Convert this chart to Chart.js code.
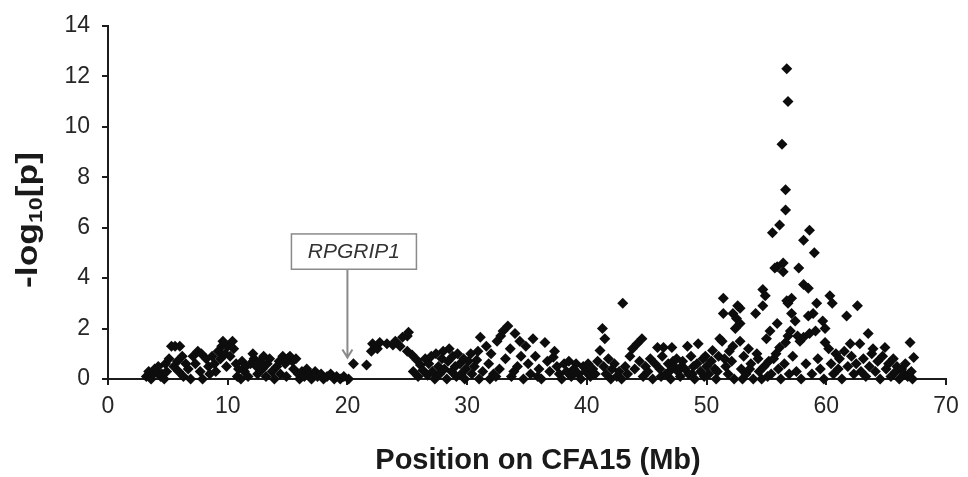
<!DOCTYPE html>
<html>
<head>
<meta charset="utf-8">
<script src="https://cdn.jsdelivr.net/npm/chart.js@4/dist/chart.umd.min.js"></script>
<style>
  html, body { margin: 0; padding: 0; background: #fff; }
  #wrap { width: 968px; height: 477px; }
</style>
</head>
<body>
<div id="wrap"><canvas id="chart"></canvas></div>
<script>
// tick values on both axes
const xTicks = [0, 10, 20, 30, 40, 50, 60, 70];
const yTicks = [0, 2, 4, 6, 8, 10, 12, 14];

// markers 3 - 20 Mb  [position, -log10 p]
const snps3to20 = [
  [3.2,0.1],[3.4,0.3],[3.6,0.0],[3.8,0.2],[3.9,0.4],
  [4.1,0.3],[4.2,0.5],[4.4,0.1],[4.5,0.2],[4.7,0.0],[4.8,0.6],[4.9,0.3],
  [5.1,0.8],[5.3,1.3],[5.5,0.5],[5.6,1.3],[5.8,0.7],[5.9,0.3],
  [6.0,1.3],[6.2,0.9],[6.3,0.1],[6.5,0.6],[6.7,0.4],[6.9,0.0],
  [7.1,0.9],[7.3,0.6],[7.5,1.1],[7.7,0.3],[7.8,1.0],[7.9,0.0],
  [8.2,0.8],[8.4,0.5],[8.5,0.2],[8.7,0.9],[8.9,0.6],
  [9.0,0.3],[9.2,1.1],[9.4,0.8],[9.5,1.3],[9.6,1.5],[9.8,1.0],[9.9,0.5],
  [10.0,1.3],[10.2,0.9],[10.4,1.5],[10.5,1.2],[10.7,0.6],[10.8,0.1],[10.9,0.4],
  [11.1,0.0],[11.2,0.7],[11.4,0.3],[11.5,0.5],[11.7,0.1],[11.9,0.6],
  [12.1,1.0],[12.2,0.8],[12.4,0.5],[12.5,0.2],[12.7,0.7],[12.9,0.4],
  [13.0,0.9],[13.2,0.1],[13.3,0.6],[13.5,0.8],[13.7,0.3],[13.9,0.0],
  [14.1,0.5],[14.3,0.7],[14.4,0.2],[14.6,0.9],[14.8,0.6],[14.9,0.1],
  [15.0,0.8],[15.2,0.9],[15.4,0.7],[15.5,0.4],[15.7,0.8],[15.9,0.2],
  [16.0,0.0],[16.2,0.3],[16.4,0.1],[16.6,0.4],[16.8,0.2],
  [17.0,0.0],[17.3,0.3],[17.5,0.1],[17.8,0.2],[18.0,0.0],[18.3,0.1],
  [18.6,0.2],[18.9,0.0],[19.1,0.1],[19.4,0.0],[19.7,0.1],[20.1,0.0]
];

// markers 20 - 41 Mb
const snps20to41 = [
  [20.5,0.6],[21.6,0.55],[22.0,1.1],[22.1,1.4],[22.5,1.2],[22.7,1.45],[23.3,1.4],
  [23.8,1.35],[24.0,1.5],[24.4,1.3],[24.6,1.65],[25.0,1.7],[25.1,1.85],[25.0,1.1],
  [25.4,0.95],[25.8,0.75],[26.1,0.55],[26.3,0.35],[26.7,0.15],[25.5,0.3],[25.9,0.1],[26.5,0.8],
  [26.8,0.6],[27.0,0.9],[27.1,0.3],[27.3,0.0],[27.4,1.0],[27.6,0.5],[27.7,0.2],[27.9,0.8],
  [28.0,1.1],[28.1,0.4],[28.3,0.0],[28.4,0.7],[28.5,1.2],[28.7,0.3],[28.8,0.9],[29.0,0.5],
  [29.1,0.1],[29.2,1.0],[29.4,0.6],[29.5,0.2],[29.7,0.8],[29.8,0.0],[29.9,0.4],
  [30.1,0.7],[30.3,1.0],[30.4,0.2],[30.6,0.5],[30.8,0.75],[30.9,1.1],[31.1,1.65],[31.0,0.0],[31.3,0.3],
  [31.6,1.3],[31.8,0.6],[31.9,0.0],[32.0,1.0],[32.2,0.2],[32.4,0.1],[32.5,1.5],[32.7,0.4],
  [32.8,1.7],[33.0,1.9],[33.2,0.8],[33.4,2.1],[33.6,1.2],[33.7,0.1],[33.9,0.3],[34.0,1.8],
  [34.2,0.5],[34.4,1.5],[34.5,0.9],[34.7,0.0],[34.9,1.3],[35.1,0.6],[35.3,0.2],[35.5,1.6],
  [35.7,0.9],[35.9,0.1],[36.0,0.4],[36.2,0.0],[36.5,1.45],[36.7,0.7],[36.9,0.3],
  [37.2,0.86],[37.3,1.1],[37.5,0.5],[37.7,0.2],[37.9,0.0],[38.1,0.6],[38.3,0.3],[38.5,0.7],
  [38.7,0.1],[38.9,0.4],[39.1,0.6],[39.3,0.2],[39.5,0.0],[39.7,0.5],[39.9,0.3],
  [40.1,0.6],[40.3,0.1],[40.5,0.4],[40.7,0.2],[40.9,0.7]
];

// markers 41 - 54 Mb
const snps41to54 = [
  [41.1,1.13],[41.3,2.0],[41.5,1.6],[41.4,0.5],[41.6,0.2],[41.8,0.8],[42.0,0.0],[42.1,0.4],
  [42.3,0.6],[42.5,0.1],[42.7,0.3],[43.0,3.0],[42.9,0.0],
  [43.2,0.5],[43.4,0.2],[43.6,0.9],[43.8,1.2],[44.0,0.4],[44.2,1.4],[44.4,0.7],[44.6,1.6],
  [44.7,0.1],[44.9,0.5],[45.1,0.3],[45.3,0.8],[45.5,0.0],[45.7,0.6],[45.9,1.25],
  [46.1,0.4],[46.2,0.1],[46.3,0.9],[46.4,1.25],[46.6,0.2],[46.8,0.6],[46.9,0.3],[47.0,0.0],
  [47.1,1.25],[47.2,0.7],[47.3,0.5],[47.5,0.8],[47.6,0.3],[47.8,0.1],[47.9,0.5],[48.0,0.7],
  [48.2,0.4],[48.4,1.3],[48.5,0.2],[48.7,0.9],[48.8,0.2],[48.9,0.5],[49.0,0.0],[49.2,0.6],
  [49.3,1.4],[49.5,0.3],[49.7,0.8],[49.8,0.1],[49.9,0.9],[50.0,0.5],
  [50.2,0.2],[50.4,0.7],[50.5,1.13],[50.7,0.4],[50.8,0.0],[50.9,0.3],[51.0,0.9],[51.1,1.6],
  [51.3,1.5],[51.4,2.6],[51.4,3.2],[51.5,0.8],[51.6,0.5],[51.8,0.2],[51.9,1.1],[52.1,0.7],
  [52.2,1.3],[52.2,2.6],[52.3,0.0],[52.4,2.0],[52.5,2.4],[52.6,2.9],[52.8,1.5],[52.8,2.2],
  [52.8,2.8],[52.9,0.4],[53.0,0.0],[53.1,0.9],[53.3,0.2],[53.5,1.2],[53.6,0.4],[53.7,0.6],[53.9,0.0]
];

// markers 54 - 67.5 Mb, incl. the peak
const snps54to68 = [
  [54.1,2.6],[54.2,1.0],[54.3,0.8],[54.4,0.3],[54.6,0.0],[54.7,3.55],[54.7,2.9],[54.8,0.5],
  [54.9,3.3],[55.0,1.6],[55.1,0.1],[55.2,0.7],[55.3,1.9],[55.4,0.2],[55.5,5.8],[55.6,0.8],
  [55.7,4.4],[55.9,2.2],[55.9,4.45],[55.8,1.0],[56.0,0.4],
  [56.1,6.1],[56.3,9.3],[56.6,7.5],[56.6,6.7],[56.7,12.3],[56.8,11.0],[56.4,4.25],[56.4,4.6],
  [56.1,1.25],[56.6,1.45],[56.7,3.1],[56.2,0.0],[56.5,0.6],[56.9,0.2],[56.8,1.7],[56.8,3.0],
  [57.0,1.9],[57.1,2.6],[57.1,3.2],[57.4,2.3],[57.6,1.7],[57.7,4.4],[57.8,1.5],[57.2,0.9],
  [57.5,0.3],[57.9,0.0],[58.1,3.75],[58.1,5.5],[58.1,1.65],[58.3,0.6],[58.5,3.6],[58.5,2.5],
  [58.6,5.9],[58.6,1.8],[58.8,0.2],[58.9,2.6],[59.0,5.0],[59.1,1.9],[59.2,3.0],[59.3,0.8],
  [59.5,0.4],[59.7,2.3],[59.9,2.0],[59.9,1.45],[59.8,0.0],
  [60.2,1.2],[60.3,3.3],[60.5,3.0],[60.4,0.6],[60.6,0.2],[60.8,1.0],[61.0,0.4],[61.1,0.8],
  [61.3,0.0],[61.5,1.1],[61.7,2.5],[61.8,0.5],[62.0,1.4],[62.1,0.9],[62.3,0.2],[62.5,0.6],
  [62.6,2.9],[62.8,1.4],[62.9,0.3],
  [63.1,0.8],[63.3,0.1],[63.5,1.8],[63.6,0.5],[63.8,1.0],[63.9,1.2],[64.1,0.3],[64.3,0.7],
  [64.5,0.0],[64.7,0.9],[64.9,1.25],[65.0,0.4],[65.2,0.6],[65.4,0.1],[65.6,0.8],[65.8,0.3],
  [65.9,0.5],[66.1,0.0],[66.3,0.4],[66.5,0.2],[66.6,0.6],[66.8,0.1],[66.9,0.2],[67.0,1.45],
  [67.1,0.3],[67.2,0.0],[67.3,0.85]
];

const geneName = 'RPGRIP1';
const genePos = 20;

const allSnps = [...snps3to20, ...snps20to41, ...snps41to54, ...snps54to68];

const axisColor = '#1c1c1c';
const tickFont = { family: 'Liberation Sans, Arial, sans-serif', size: 23 };

// titles + gene callout
const decorations = {
    id: 'decorations',
    afterDraw(chart) {
        const { ctx, scales: { x, y } } = chart;
        ctx.save();

        // x title
        ctx.fillStyle = '#1a1a1a';
        ctx.font = 'bold 29px Liberation Sans, Arial, sans-serif';
        ctx.textAlign = 'center';
        ctx.textBaseline = 'alphabetic';
        ctx.fillText('Position on CFA15 (Mb)', 538, 469);

        // y title with subscript
        ctx.save();
        ctx.translate(37, 220);
        ctx.rotate(-Math.PI / 2);
        const big = 'bold 29px Liberation Sans, Arial, sans-serif';
        const small = 'bold 19px Liberation Sans, Arial, sans-serif';
        ctx.font = big;
        const w1 = ctx.measureText('-log').width;
        const w3 = ctx.measureText('[p]').width;
        ctx.font = small;
        const w2 = ctx.measureText('10').width;
        const total = w1 + w2 + w3;
        const sx = 136 / total;
        ctx.scale(sx, 1);
        ctx.textAlign = 'left';
        let cx = -total / 2;
        ctx.font = big;
        ctx.fillText('-log', cx, 0);
        cx += w1;
        ctx.font = small;
        ctx.fillText('10', cx, 5);
        cx += w2;
        ctx.font = big;
        ctx.fillText('[p]', cx, 0);
        ctx.restore();

        // gene callout
        const ax = x.getPixelForValue(genePos);
        const boxTop = y.getPixelForValue(5.75);
        const boxBot = y.getPixelForValue(4.35);
        const boxL = ax - 56, boxW = 125;
        ctx.strokeStyle = '#8a8a8a';
        ctx.lineWidth = 1.5;
        ctx.strokeRect(boxL, boxTop, boxW, boxBot - boxTop);
        ctx.fillStyle = '#333';
        ctx.font = 'italic 21px Liberation Sans, Arial, sans-serif';
        ctx.textAlign = 'center';
        ctx.textBaseline = 'middle';
        ctx.fillText(geneName, boxL + boxW / 2, (boxTop + boxBot) / 2 + 1);

        const tip = y.getPixelForValue(0.85);
        ctx.lineWidth = 2;
        ctx.beginPath();
        ctx.moveTo(ax, boxBot);
        ctx.lineTo(ax, tip);
        ctx.moveTo(ax - 5, tip - 8);
        ctx.lineTo(ax, tip);
        ctx.lineTo(ax + 5, tip - 8);
        ctx.stroke();

        ctx.restore();
    }
};

const ctx = document.getElementById('chart').getContext('2d');
new Chart(ctx, {
    type: 'scatter',
    data: {
        datasets: [{
            data: allSnps.map(p => ({ x: p[0], y: p[1] })),
            pointStyle: 'rectRot',
            pointRadius: 5.5,
            pointHoverRadius: 5.5,
            backgroundColor: '#0d0d0d',
            borderColor: '#0d0d0d',
            borderWidth: 0,
            clip: false
        }]
    },
    options: {
        responsive: true,
        maintainAspectRatio: false,
        animation: false,
        events: [],
        layout: { padding: { top: 20, right: 22, bottom: 0, left: 0 } },
        plugins: { legend: { display: false }, tooltip: { enabled: false } },
        scales: {
            x: {
                type: 'linear',
                min: 0,
                max: 70,
                afterBuildTicks: s => { s.ticks = xTicks.map(v => ({ value: v })); },
                afterFit: s => { s.height = 98; },
                ticks: { color: '#262626', font: tickFont, padding: 8, maxRotation: 0 },
                grid: { drawOnChartArea: false, drawTicks: true, tickLength: 6, color: axisColor, lineWidth: 2 },
                border: { color: axisColor, width: 2 }
            },
            y: {
                type: 'linear',
                min: 0,
                max: 14,
                afterBuildTicks: s => { s.ticks = yTicks.map(v => ({ value: v })); },
                afterFit: s => { s.width = 108; },
                ticks: { color: '#262626', font: tickFont, padding: 12 },
                grid: { drawOnChartArea: false, drawTicks: true, tickLength: 6, color: axisColor, lineWidth: 2 },
                border: { color: axisColor, width: 2 }
            }
        }
    },
    plugins: [decorations]
});
</script>
</body>
</html>
